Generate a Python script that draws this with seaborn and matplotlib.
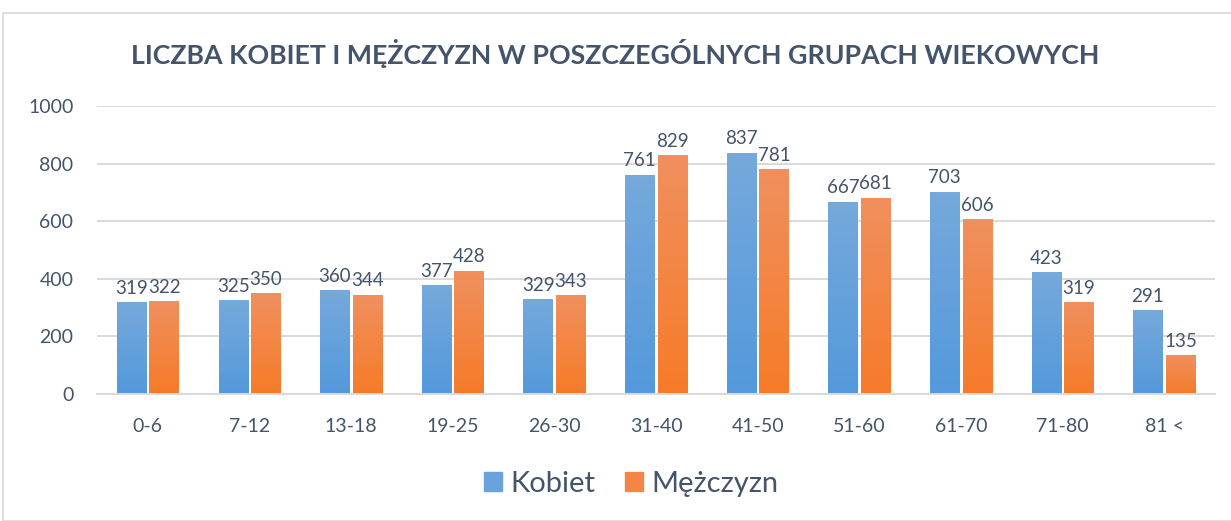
import numpy as np
import pandas as pd
import matplotlib
matplotlib.use('Agg')
import matplotlib.pyplot as plt
from matplotlib.colors import LinearSegmentedColormap
from matplotlib.patches import Rectangle
import seaborn as sns

# data
groups = ['0-6', '7-12', '13-18', '19-25', '26-30', '31-40', '41-50', '51-60', '61-70', '71-80', '81 <']
kobiet = [319, 325, 360, 377, 329, 761, 837, 667, 703, 423, 291]
mezczyzn = [322, 350, 344, 428, 343, 829, 781, 681, 606, 319, 135]
series = ['Kobiet', 'Mężczyzn']

df = pd.DataFrame({
    'grupa': groups * 2,
    'liczba': kobiet + mezczyzn,
    'plec': [series[0]] * len(groups) + [series[1]] * len(groups),
})

sns.set_theme(style='white')
plt.rcParams['font.family'] = ['Lato', 'DejaVu Sans']
txt = '#44546A'
blue_top, blue_bot = '#76A9DB', '#5399DB'
orange_top, orange_bot = '#F0905F', '#F67B28'

fig = plt.figure(figsize=(12.31, 5.21), dpi=100)
ax = fig.add_axes([97 / 1231, 1 - 394 / 521, (1215 - 97) / 1231, (394 - 106) / 521])

sns.barplot(data=df, x='grupa', y='liczba', hue='plec', ax=ax,
            palette=[blue_bot, orange_bot], width=0.64, gap=0.1,
            saturation=1, legend=False)

ax.set_ylim(0, 1000)
ax.set_yticks(range(0, 1001, 200))
ax.yaxis.grid(True, color='#D9D9D9', lw=1.4)
ax.set_axisbelow(True)
for s in ['top', 'right', 'left']:
    ax.spines[s].set_visible(False)
ax.spines['bottom'].set_color('#D9D9D9')
ax.spines['bottom'].set_linewidth(1.4)
ax.tick_params(axis='both', length=0, labelsize=14, colors=txt)
ax.tick_params(axis='y', pad=17)
ax.tick_params(axis='x', pad=17)
ax.set_xlabel('')
ax.set_ylabel('')

# gradient fills, per bar: lighter at the top, darker at the base
cmaps = [LinearSegmentedColormap.from_list('b', [blue_bot, blue_top]),
         LinearSegmentedColormap.from_list('o', [orange_bot, orange_top])]
grad = np.linspace(0, 1, 256).reshape(-1, 1)
for cont, cm in zip(ax.containers, cmaps):
    for p in cont.patches:
        x0, w, h = p.get_x(), p.get_width(), p.get_height()
        im = ax.imshow(grad, cmap=cm, aspect='auto', origin='lower',
                       extent=[x0, x0 + w, 0, h], zorder=p.get_zorder() + 0.1,
                       vmin=0, vmax=1)
        im.set_clip_path(p)
        p.set_edgecolor('none')
    ax.bar_label(cont, padding=4, fontsize=13.5, color=txt)

ax.set_xlim(-0.5, len(groups) - 0.5)
ax.set_ylim(0, 1000)

# legend
handles = [Rectangle((0, 0), 1, 1, color=c) for c in ['#69A3DB', '#F38546']]
fig.legend(handles, series, loc='center', bbox_to_anchor=(631 / 1231, 1 - 484 / 521),
           ncol=2, frameon=False, fontsize=21, labelcolor=txt,
           handlelength=0.62, handleheight=0.62, handletextpad=0.3, columnspacing=1.0)

fig.text(0.5, 1 - 53 / 521, 'LICZBA KOBIET I MĘŻCZYZN W POSZCZEGÓLNYCH GRUPACH WIEKOWYCH',
         ha='center', va='center', fontsize=19.3, fontweight='bold', color=txt)

# chart border
fig.patches.append(Rectangle((3 / 1231, 0), 1.0, 1 - 13 / 521, transform=fig.transFigure,
                             fill=False, edgecolor='#D9D9D9', lw=1.2))

plt.savefig('out.png', dpi=100, facecolor='white')
